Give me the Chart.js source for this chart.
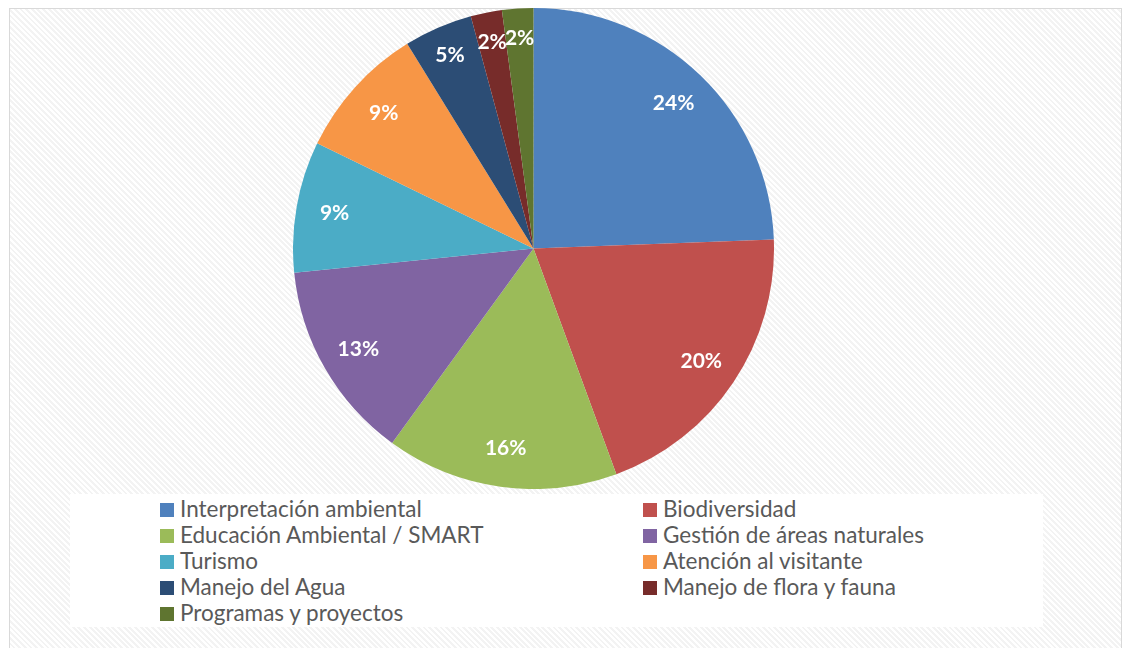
<!DOCTYPE html>
<html><head><meta charset="utf-8">
<script src="https://cdn.jsdelivr.net/npm/chart.js@4"></script>
<style>
html,body{margin:0;padding:0;width:1123px;height:648px;overflow:hidden;background:#fff;}
#frame{position:absolute;left:9px;top:8px;width:1111px;height:650px;border:1px solid #d9d9d9;
background:repeating-linear-gradient(45deg,#ffffff 0px,#ffffff 2px,#f3f3f3 2px,#f3f3f3 4px);}
#pie{position:absolute;left:293px;top:8px;width:481px;height:481px;}
#legend{position:absolute;left:70px;top:494px;width:973px;height:133px;background:#fff;}
.li{position:absolute;height:26px;font-family:Lato,"Open Sans",sans-serif;font-size:22.5px;color:#595959;line-height:26px;white-space:nowrap;}
.li span.b{position:absolute;left:0;top:7px;width:14px;height:14px;}
.li span.t{position:absolute;left:20px;top:0;}
</style></head>
<body>
<div id="frame"></div>
<div id="pie"><canvas id="c"></canvas></div>
<div id="legend"></div>
<script>
const categories = ["Interpretación ambiental","Biodiversidad","Educación Ambiental / SMART","Gestión de áreas naturales","Turismo","Atención al visitante","Manejo del Agua","Manejo de flora y fauna","Programas y proyectos"];
const values = [24.4, 20.0, 15.6, 13.4, 8.8, 9.0, 4.6, 2.1, 2.1];
const colors = ["#4F81BD","#C0504D","#9BBB59","#8064A2","#4BACC6","#F79646","#2C4D75","#772C2A","#5F7530"];

const labelPlugin = {
  id:'pctLabels',
  afterDatasetsDraw(chart){
    const ctx = chart.ctx;
    const meta = chart.getDatasetMeta(0);
    const data = chart.data.datasets[0].data;
    const total = data.reduce((a,b)=>a+b,0);
    ctx.save();
    ctx.fillStyle = '#fff';
    ctx.font = 'bold 21px Lato, "Open Sans", sans-serif';
    ctx.textAlign = 'center';
    ctx.textBaseline = 'middle';
    meta.data.forEach((arc,i)=>{
      const p = arc.getProps(['x','y','startAngle','endAngle','outerRadius']);
      const mid = (p.startAngle+p.endAngle)/2;
      const pct = data[i]/total;
      const r = p.outerRadius*(pct<0.06?0.875:0.84);
      const txt = Math.round(pct*100)+'%';
      ctx.fillText(txt, p.x+Math.cos(mid)*r, p.y+Math.sin(mid)*r);
    });
    ctx.restore();
  }
};

const chart = new Chart(document.getElementById('c'),{
  type:'pie',
  data:{labels:categories,datasets:[{data:values,backgroundColor:colors,borderWidth:0}]},
  options:{responsive:true,maintainAspectRatio:false,animation:false,
    layout:{padding:0},
    plugins:{legend:{display:false},tooltip:{enabled:false}}},
  plugins:[labelPlugin]
});

const leg = document.getElementById('legend');
categories.forEach((name,i)=>{
  const col = i%2, row = Math.floor(i/2);
  const d = document.createElement('div');
  d.className='li';
  d.style.left = (col===0?90:573)+'px';
  d.style.top = (2+row*26)+'px';
  d.innerHTML = '<span class="b" style="background:'+colors[i]+'"></span><span class="t"></span>';
  d.querySelector('.t').textContent = name;
  leg.appendChild(d);
});
</script>
</body></html>
